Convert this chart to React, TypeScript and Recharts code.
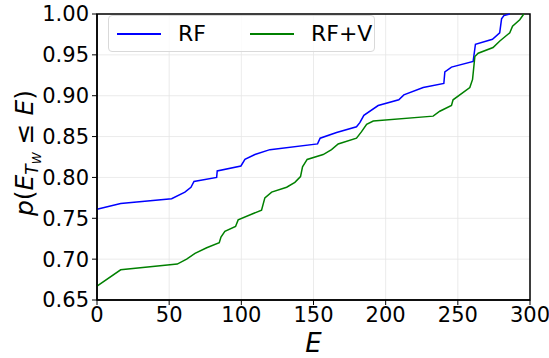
import { LineChart, Line, XAxis, YAxis, CartesianGrid, Legend, ReferenceArea } from 'recharts';

const FONT = '"DejaVu Sans", sans-serif';
const RF_BLUE = '#0000ff';
const RFV_GREEN = '#008000';

// RF curve
const rfE = [0, 16.4, 51.7, 60.9, 65.1, 67.2, 82.9, 83.3, 99.7, 102.5, 109.4, 119.8, 152.8, 154.6, 166, 179.8, 182.1, 184.9, 194.8, 209.1, 212.6, 226, 240.3, 241, 245.6, 260.6, 262.2, 274, 279, 280.3, 281.9, 286];
const rfP = [0.761, 0.768, 0.774, 0.782, 0.788, 0.795, 0.8, 0.808, 0.814, 0.822, 0.828, 0.834, 0.841, 0.848, 0.855, 0.862, 0.867, 0.876, 0.888, 0.895, 0.901, 0.91, 0.915, 0.929, 0.935, 0.942, 0.963, 0.969, 0.977, 0.994, 0.998, 1.0];

// RF+V curve
const rfvE = [0, 16.4, 55.6, 62.1, 67.9, 76, 84.7, 85.9, 88.6, 96, 97.8, 114, 116.3, 121, 131.4, 137.1, 141, 142.4, 145.6, 156.7, 162.5, 167.1, 179.8, 183.3, 186.8, 191.4, 232.9, 237.5, 245.6, 246.7, 258.3, 260.2, 261.8, 264.1, 274.4, 279.1, 286, 287.9, 292.9, 295.7];
const rfvP = [0.667, 0.687, 0.694, 0.7, 0.707, 0.714, 0.72, 0.727, 0.734, 0.74, 0.748, 0.76, 0.775, 0.782, 0.788, 0.794, 0.801, 0.813, 0.822, 0.828, 0.834, 0.841, 0.848, 0.856, 0.865, 0.869, 0.875, 0.881, 0.888, 0.895, 0.91, 0.92, 0.948, 0.952, 0.959, 0.967, 0.977, 0.985, 0.993, 1.0];

const xTicks = [0, 50, 100, 150, 200, 250, 300];
const yTicks = [0.65, 0.7, 0.75, 0.8, 0.85, 0.9, 0.95, 1.0];

const rfData = rfE.map((e, i) => ({ E: e, p: rfP[i] }));
const rfvData = rfvE.map((e, i) => ({ E: e, p: rfvP[i] }));

const legendItems = [
  { name: 'RF', color: RF_BLUE },
  { name: 'RF+V', color: RFV_GREEN },
];

const LegendBox = () => (
  <div
    style={{
      display: 'flex',
      alignItems: 'center',
      border: '1px solid #d9d9d9',
      borderRadius: 4,
      background: 'rgba(255,255,255,0.8)',
      height: 37,
      width: 267,
      boxSizing: 'border-box',
      paddingLeft: 8,
      fontFamily: FONT,
      fontSize: 22,
      color: '#000',
    }}
  >
    {legendItems.map((item, i) => (
      <div key={item.name} style={{ display: 'flex', alignItems: 'center', marginRight: i === 0 ? 44 : 0 }}>
        <div style={{ width: 44, height: 2, background: item.color, marginRight: 17 }} />
        <span>{item.name}</span>
      </div>
    ))}
  </div>
);

const XLabel = ({ viewBox }: any) => {
  const { x, y, width } = viewBox;
  return (
    <text x={x + width / 2} y={y + 52} textAnchor="middle" fontFamily={FONT} fontSize={26} fontStyle="italic" fill="#000">
      E
    </text>
  );
};

const YLabel = ({ viewBox }: any) => {
  const { y, height } = viewBox;
  const cx = 33;
  const cy = y + height / 2 - 4;
  return (
    <text
      x={cx}
      y={cy}
      transform={`rotate(-90, ${cx}, ${cy})`}
      textAnchor="middle"
      fontFamily={FONT}
      fontSize={25}
      fill="#000"
    >
      <tspan fontStyle="italic">p</tspan>
      <tspan>(</tspan>
      <tspan fontStyle="italic">E</tspan>
      <tspan fontStyle="italic" fontSize={17} dy={5}>T</tspan>
      <tspan fontStyle="italic" fontSize={12} dy={3}>W</tspan>
      <tspan dy={-8}> ≤ </tspan>
      <tspan fontStyle="italic">E</tspan>
      <tspan>)</tspan>
    </text>
  );
};

export default function App() {
  return (
    <div style={{ position: 'absolute', left: 0, top: 0, background: '#fff' }}>
      <LineChart width={549} height={358} margin={{ top: 14, right: 19, bottom: 0, left: 0 }}>
        <CartesianGrid stroke="#e6e6e6" strokeWidth={0.8} />
        <XAxis
          dataKey="E"
          type="number"
          domain={[0, 300]}
          ticks={xTicks}
          height={58}
          allowDuplicatedCategory={false}
          axisLine={{ stroke: '#000', strokeWidth: 1.5 }}
          tickLine={{ stroke: '#000', strokeWidth: 1 }}
          tickSize={5}
          tickMargin={2}
          tick={{ fontFamily: FONT, fontSize: 21, fill: '#000' }}
          label={<XLabel />}
        />
        <YAxis
          type="number"
          domain={[0.65, 1.0]}
          ticks={yTicks}
          width={97}
          axisLine={{ stroke: '#000', strokeWidth: 1.5 }}
          tickLine={{ stroke: '#000', strokeWidth: 1 }}
          tickSize={5}
          tickMargin={3}
          tickFormatter={(v: number) => v.toFixed(2)}
          tick={{ fontFamily: FONT, fontSize: 21, fill: '#000' }}
          label={<YLabel />}
        />
        <ReferenceArea x1={0} x2={300} y1={0.65} y2={1.0} fill="none" stroke="#000" strokeWidth={1.5} />
        <Line
          data={rfData}
          dataKey="p"
          name="RF"
          type="linear"
          stroke={RF_BLUE}
          strokeWidth={1.5}
          dot={false}
          isAnimationActive={false}
        />
        <Line
          data={rfvData}
          dataKey="p"
          name="RF+V"
          type="linear"
          stroke={RFV_GREEN}
          strokeWidth={1.5}
          dot={false}
          isAnimationActive={false}
        />
        <Legend
          verticalAlign="middle"
          align="center"
          layout="horizontal"
          content={<LegendBox />}
          wrapperStyle={{ left: 108, top: 15, width: 269 }}
        />
      </LineChart>
    </div>
  );
}
